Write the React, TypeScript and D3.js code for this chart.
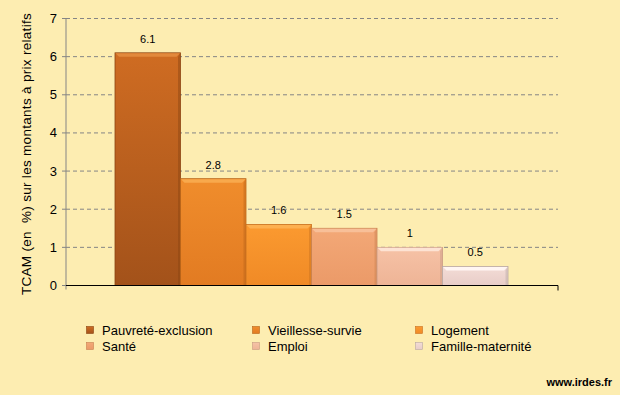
import React from "react";
import * as d3 from "d3";

const categories = ["Pauvreté-exclusion", "Vieillesse-survie", "Logement", "Santé", "Emploi", "Famille-maternité"];
const values = [6.1, 2.8, 1.6, 1.5, 1, 0.5];
const valueLabels = ["6.1", "2.8", "1.6", "1.5", "1", "0.5"];
const yTicks = [0, 1, 2, 3, 4, 5, 6, 7];
const colorsTop = ["#cf6c22", "#f08d2c", "#fb9a30", "#f3a877", "#f6c2a6", "#f3dcd6"];
const colorsBottom = ["#a3521a", "#e27b22", "#f08a26", "#eb9a68", "#eeb496", "#e8cdc8"];
const highlight = ["#e2893c", "#f8a94c", "#fdb050", "#f8bf98", "#fde3d4", "#fff6f3"];
const edge = ["#8a4412", "#b86418", "#c87020", "#c88050", "#c89a82", "#b8a8a4"];

const W = 620, H = 395;
const margin = { left: 66, right: 62, top: 18.5, bottom: 109.5 };
const innerW = W - margin.left - margin.right;
const innerH = H - margin.top - margin.bottom;

export default function App() {
  const y = d3.scaleLinear().domain([0, 7]).range([innerH, 0]);
  const x = d3.scaleBand().domain(categories).range([49, 442]).paddingInner(0).paddingOuter(0);
  const bw = x.bandwidth();
  const font = "'Liberation Sans', Arial, sans-serif";
  const legendCols = [90, 256, 419];
  const legendRows = [330, 346];

  return (
    <svg width={W} height={H} style={{ position: "absolute", left: 0, top: 0, display: "block" }}>
      <defs>
        {categories.map((c, i) => (
          <linearGradient key={c} id={`g${i}`} x1="0" y1="0" x2="0" y2="1">
            <stop offset="0" stopColor={colorsTop[i]} />
            <stop offset="1" stopColor={colorsBottom[i]} />
          </linearGradient>
        ))}
      </defs>
      <rect x={0} y={0} width={W} height={H} fill="#fdedb1" />
      <g transform={`translate(${margin.left},${margin.top})`}>
        {yTicks.filter(t => t > 0).map(t => (
          <line key={t} x1={0} x2={innerW} y1={y(t)} y2={y(t)} stroke="#858585" strokeWidth={1} strokeDasharray="4,3" />
        ))}
        {yTicks.map(t => (
          <g key={"t" + t}>
            <line x1={-4} x2={0} y1={y(t)} y2={y(t)} stroke="#858585" />
            <text x={-9} y={y(t)} dy="0.35em" textAnchor="end" fontFamily={font} fontSize={13} fill="#000">{t}</text>
          </g>
        ))}
        <line x1={0} x2={0} y1={0} y2={innerH + 4} stroke="#858585" />
        {categories.map((c, i) => {
          const x0 = x(c)!;
          const y0 = y(values[i]);
          const h = innerH - y0;
          const hb = 4;
          return (
            <g key={c}>
              <rect x={x0} y={y0} width={bw} height={h} fill={`url(#g${i})`} stroke={edge[i]} strokeWidth={0.8} />
              <polygon points={`${x0 + 0.5},${y0 + 0.5} ${x0 + bw - 0.5},${y0 + 0.5} ${x0 + bw - hb},${y0 + hb} ${x0 + hb},${y0 + hb}`} fill={highlight[i]} />
              <polygon points={`${x0 + bw - 0.5},${y0 + 0.5} ${x0 + bw - 0.5},${y0 + h} ${x0 + bw - 2.5},${y0 + h} ${x0 + bw - 2.5},${y0 + hb}`} fill={edge[i]} opacity={0.45} />
              <text x={x0 + bw / 2} y={y0 - 10} textAnchor="middle" fontFamily={font} fontSize={11} fill="#000">{valueLabels[i]}</text>
            </g>
          );
        })}
        <line x1={0} x2={innerW} y1={innerH} y2={innerH} stroke="#000" strokeWidth={1} />
        <line x1={innerW} x2={innerW} y1={innerH} y2={innerH + 5} stroke="#000" strokeWidth={1} />
      </g>
      <text transform={`translate(31,154) rotate(-90)`} textAnchor="middle" fontFamily={font} fontSize={13.5} letterSpacing={0.3} fill="#000" style={{ whiteSpace: "pre" }}>
        {"TCAM (en  %) sur les montants à prix relatifs"}
      </text>
      {categories.map((c, i) => {
        const lx = legendCols[i % 3];
        const ly = legendRows[Math.floor(i / 3)];
        return (
          <g key={"l" + c}>
            <rect x={lx - 3.5} y={ly - 3.5} width={7} height={7} fill={`url(#g${i})`} stroke={edge[i]} strokeWidth={0.6} />
            <text x={lx + 12} y={ly} dy="0.35em" fontFamily={font} fontSize={13} fill="#000">{c}</text>
          </g>
        );
      })}
      <text x={612} y={382} dy="0.35em" textAnchor="end" fontFamily={font} fontSize={11} fontWeight="bold" fill="#000">www.irdes.fr</text>
    </svg>
  );
}
